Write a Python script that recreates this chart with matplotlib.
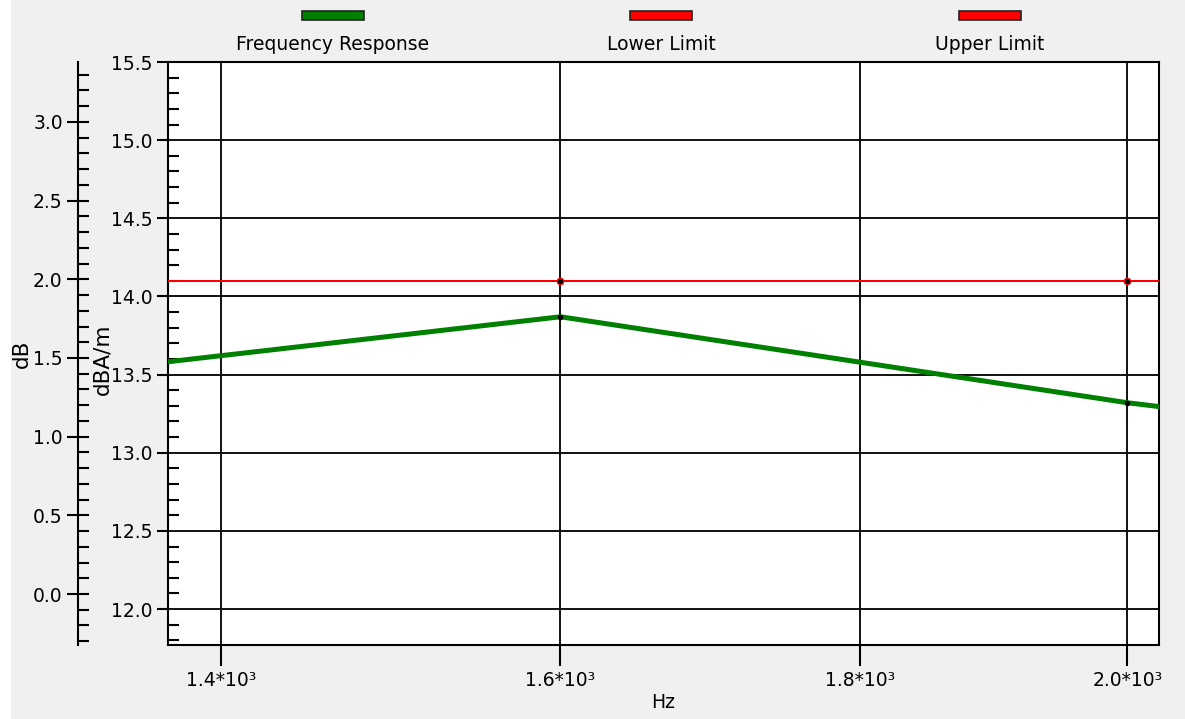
import matplotlib
matplotlib.use('Agg')
import matplotlib.pyplot as plt
from matplotlib.patches import Rectangle
from matplotlib.ticker import MultipleLocator, FixedLocator, NullLocator, FixedFormatter

# data
freq = [1250, 1600, 2000, 2500]
response = [13.41, 13.87, 13.32, 12.88]
lower_limit = [14.1, 14.1, 14.1, 14.1]
upper_limit = [14.1, 14.1, 14.1, 14.1]

x_ticks = [1400, 1600, 1800, 2000]
x_ticklabels = ['1.4*10\u00b3', '1.6*10\u00b3', '1.8*10\u00b3', '2.0*10\u00b3']
legend_names = ['Frequency Response', 'Lower Limit', 'Upper Limit']
legend_colors = ['#008000', '#ff0000', '#ff0000']

W, H = 1185, 719
plt.rcParams['font.family'] = ['DejaVu Sans']
fs = 13.5

fig = plt.figure(figsize=(W / 100, H / 100), dpi=100, facecolor='#f0f0f0')
fig.add_artist(Rectangle((0, 0), 11 / W, 1, transform=fig.transFigure,
                         facecolor='white', edgecolor='none', zorder=-5))

left, right, top, bottom = 168, 1159, 62, 645
ax = fig.add_axes([left / W, (H - bottom) / H, (right - left) / W, (bottom - top) / H])
ax.set_facecolor('white')

ax.plot(freq, lower_limit, color='#ff0000', lw=1.4, marker='o', ms=4.5,
        mfc='black', mec='#ff0000', mew=0.8, zorder=4)
ax.plot(freq, upper_limit, color='#ff0000', lw=1.4, marker='o', ms=4.5,
        mfc='black', mec='#ff0000', mew=0.8, zorder=4)
ax.plot(freq, response, color='#008000', lw=3.6, marker='o', ms=3,
        mfc='black', mec='black', zorder=5)

ax.set_xscale('log')
ax.set_xlim(1371, 2025)
ax.set_ylim(11.77, 15.5)
ax.xaxis.set_major_locator(FixedLocator(x_ticks))
ax.xaxis.set_major_formatter(FixedFormatter(x_ticklabels))
ax.xaxis.set_minor_locator(NullLocator())
ax.yaxis.set_major_locator(MultipleLocator(0.5))
ax.yaxis.set_minor_locator(MultipleLocator(0.1))
ax.yaxis.set_major_formatter(matplotlib.ticker.FormatStrFormatter('%.1f'))
ax.grid(True, which='major', color='#111111', lw=1.4)
ax.set_axisbelow(True)

ax.tick_params(axis='x', which='major', direction='out', length=15, width=1.5,
               pad=4, labelsize=fs, colors='black')
ax.tick_params(axis='y', which='major', direction='out', length=8, width=1.5,
               pad=3, labelsize=fs)
ax.tick_params(axis='y', which='minor', direction='in', length=8, width=1.5)
for s in ax.spines.values():
    s.set_color('black')
    s.set_linewidth(1.5)

ax.set_xlabel('Hz', fontsize=fs, labelpad=2)
ax.set_ylabel('dBA/m', fontsize=15.5)
ax.yaxis.set_label_coords(-0.056, 0.49)

# outer dB axis, its spine 90 px left of the plot
ax2 = ax.twinx()
ax2.set_ylim(-0.324, 3.381)
ax2.spines['left'].set_position(('outward', 90 * 0.72))
ax2.spines['left'].set_visible(True)
ax2.spines['left'].set_linewidth(1.5)
for s in ['right', 'top', 'bottom']:
    ax2.spines[s].set_visible(False)
ax2.yaxis.set_ticks_position('left')
ax2.yaxis.set_label_position('left')
ax2.yaxis.set_major_locator(MultipleLocator(0.5))
ax2.yaxis.set_minor_locator(MultipleLocator(0.1))
ax2.yaxis.set_major_formatter(matplotlib.ticker.FormatStrFormatter('%.1f'))
ax2.tick_params(axis='y', which='major', direction='inout', length=16, width=1.5,
                pad=3, labelsize=fs)
ax2.tick_params(axis='y', which='minor', direction='in', length=8, width=1.5)
ax2.set_ylabel('dB', fontsize=15.5)
ax2.yaxis.set_label_coords(-0.137, 0.5)

# legend: swatch above the name
centers = [333, 661, 990]
for cx, name, col in zip(centers, legend_names, legend_colors):
    fig.add_artist(Rectangle(((cx - 31) / W, (H - 20) / H), 62 / W, 9 / H,
                             transform=fig.transFigure, facecolor=col,
                             edgecolor='#222222', lw=1.2))
    fig.text(cx / W, (H - 44) / H, name, ha='center', va='center', fontsize=fs)

fig.savefig('out.png', dpi=100, facecolor=fig.get_facecolor())
